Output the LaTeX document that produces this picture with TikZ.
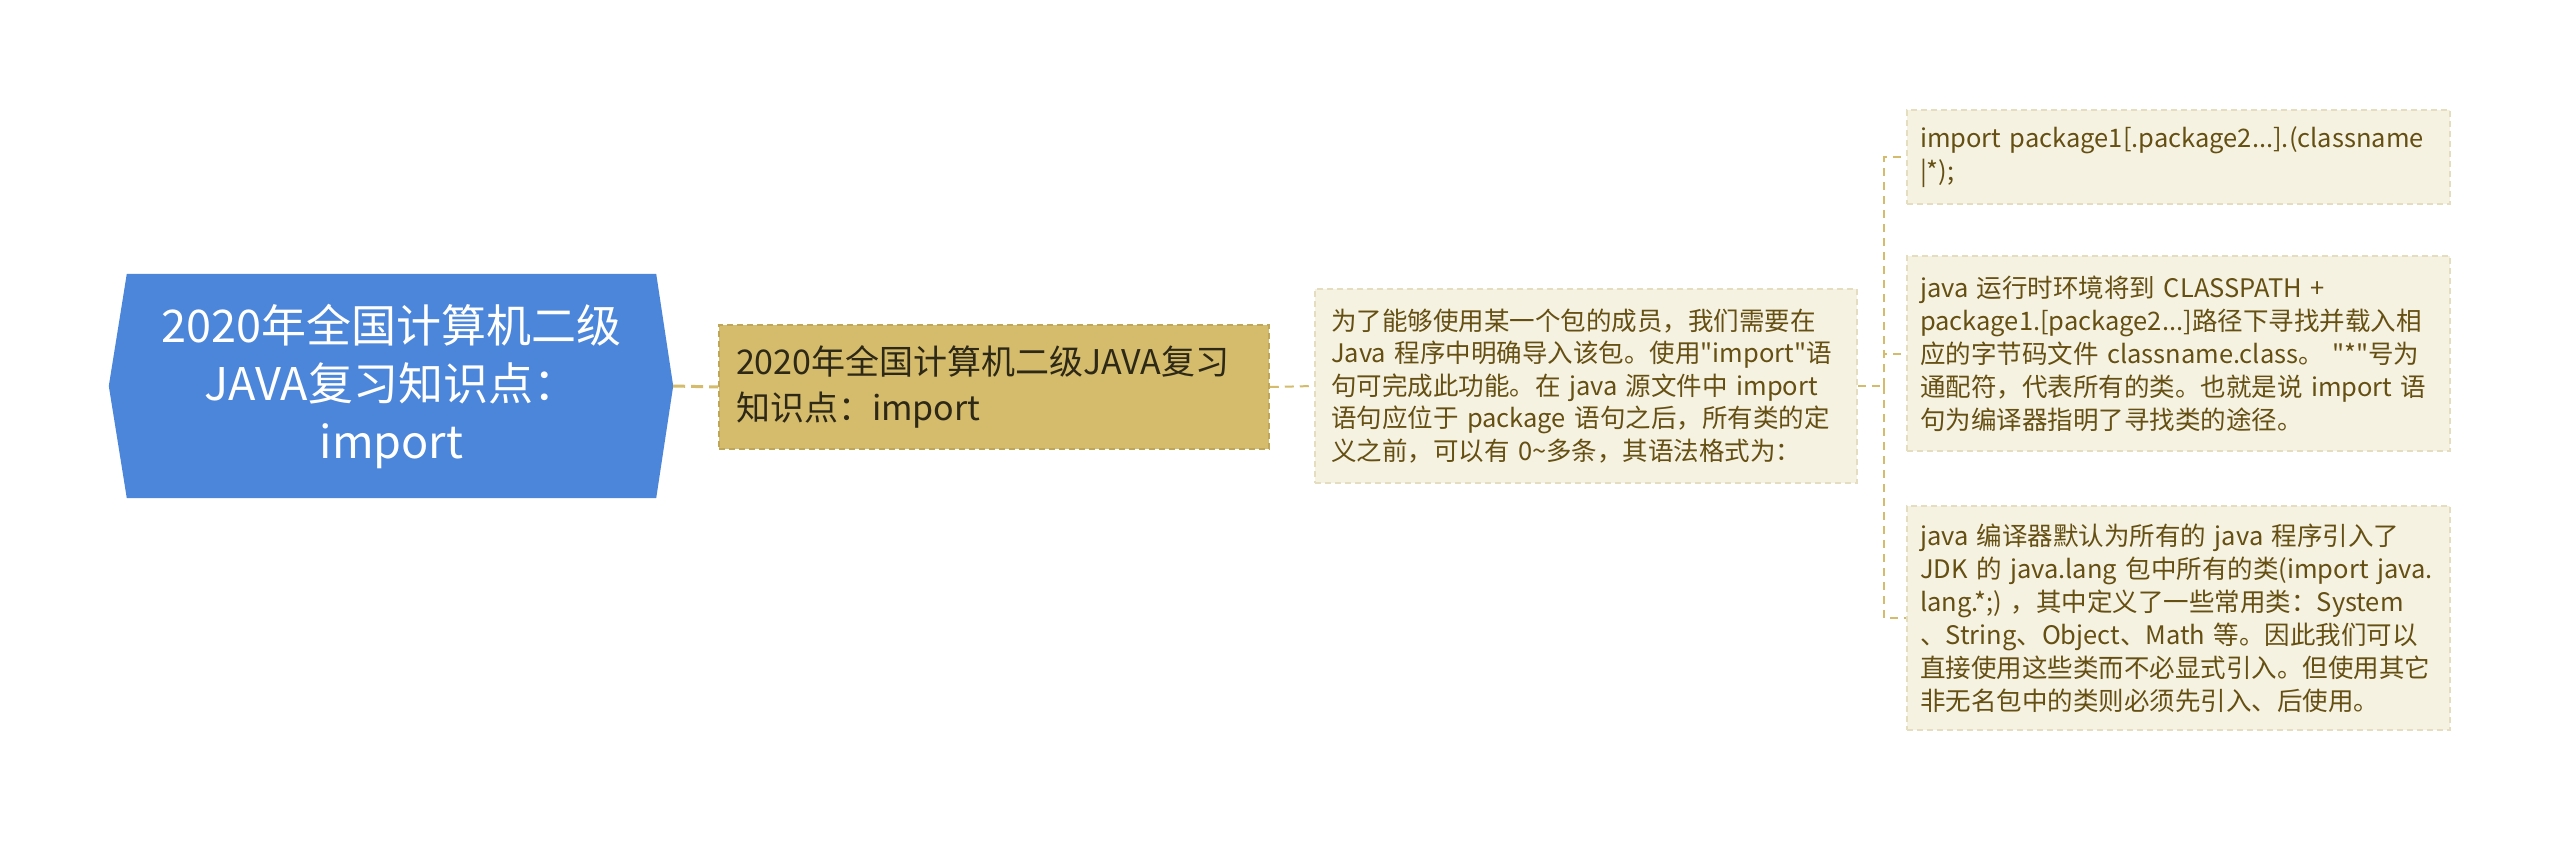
\documentclass[tikz,border=0pt]{standalone}
\usepackage{fontspec}
\setmainfont{Noto Sans CJK SC}
\usetikzlibrary{calc}
\pgfdeclarelayer{background}
\pgfsetlayers{background,main}
\definecolor{rootblue}{HTML}{4C86DA}
\definecolor{gold}{HTML}{D4BC6C}
\definecolor{goldedge}{HTML}{BFA658}
\definecolor{cream}{HTML}{F5F2E2}
\definecolor{creamedge}{HTML}{E4DDC0}
\definecolor{olive}{HTML}{654F12}
\definecolor{darktext}{HTML}{2E2816}
\tikzset{
  rootbox/.style={minimum width=529pt, minimum height=224pt, inner sep=0pt, align=center,
    text=white, font=\fontsize{45}{58}\selectfont},
  goldbox/.style={draw=goldedge, dash pattern=on 6pt off 4pt, line width=1.5pt, fill=gold,
    text=darktext, minimum width=550pt, minimum height=124pt, text width=516pt,
    inner xsep=17pt, inner ysep=0pt, align=left, font=\fontsize{34}{46}\selectfont},
  midbox/.style={draw=creamedge, dash pattern=on 6pt off 4pt, line width=1.5pt, fill=cream,
    text=olive, minimum width=542pt, minimum height=194pt, text width=510pt,
    inner xsep=16pt, inner ysep=0pt, align=left, font=\fontsize{25.5}{32.5}\selectfont},
  leafbox/.style={draw=creamedge, dash pattern=on 6pt off 4pt, line width=1.5pt, fill=cream,
    text=olive, minimum width=543pt, text width=517pt,
    inner xsep=13pt, inner ysep=0pt, align=left, font=\fontsize{25.5}{33}\selectfont},
  connA/.style={draw=gold, line width=3pt, dash pattern=on 12pt off 6pt},
  connB/.style={draw=gold, line width=2pt, dash pattern=on 9pt off 6pt},
  connC/.style={draw=gold, line width=2pt, dash pattern=on 8pt off 6pt},
}
\begin{document}
\begin{tikzpicture}[x=1pt,y=-1pt]
\useasboundingbox (0,0) rectangle (2560,841);

\node[rootbox] (root) at (391.5,386) {2020年全国计算机二级\\JAVA复习知识点：\\import};
\coordinate (roottip) at ($(root.east)+(17,0)$);
\begin{pgfonlayer}{background}
\fill[white] (0,0) rectangle (2560,841);
\fill[rootblue] (root.north west) -- (root.north east) -- (roottip) -- (root.south east)
  -- (root.south west) -- ($(root.west)+(-18,0)$) -- cycle;
\end{pgfonlayer}

\node[goldbox] (gold) at (994,387) {\mbox{2020年全国计算机二级JAVA复习}\\\mbox{知识点：import}};

\node[midbox] (mid) at (1586,386) {\mbox{为了能够使用某一个包的成员，我们需要在}\\
\mbox{Java 程序中明确导入该包。使用\textquotedbl import\textquotedbl 语}\\
\mbox{句可完成此功能。在 java 源文件中 import}\\
\mbox{语句应位于 package 语句之后，所有类的定}\\
\mbox{义之前，可以有 0\textasciitilde 多条，其语法格式为：}};

\node[leafbox, minimum height=94pt] (r1) at (2178.5,157) {\mbox{import package1[.package2...].(classname}\\
\mbox{|*);}};

\node[leafbox, minimum height=195pt] (r2) at (2178.5,353.5) {\mbox{java 运行时环境将到 CLASSPATH +}\\
\mbox{package1.[package2...]路径下寻找并载入相}\\
\mbox{应的字节码文件 classname.class。 \textquotedbl *\textquotedbl 号为}\\
\mbox{通配符，代表所有的类。也就是说 import 语}\\
\mbox{句为编译器指明了寻找类的途径。}};

\node[leafbox, minimum height=224pt] (r3) at (2178.5,618) {\mbox{java 编译器默认为所有的 java 程序引入了}\\
\mbox{JDK 的 java.lang 包中所有的类(import java.}\\
\mbox{lang.*;) ，其中定义了一些常用类：System}\\
\mbox{、String、Object、Math 等。因此我们可以}\\
\mbox{直接使用这些类而不必显式引入。但使用其它}\\
\mbox{非无名包中的类则必须先引入、后使用。}};

\coordinate (hub) at ($(mid.east)+(26,0)$);
\draw[connA] (roottip) -- (gold.west);
\draw[connB] (gold.east) -- (mid.west);
\draw[connC] (mid.east) -- (hub);
\draw[connC] (hub) |- (r1.west);
\draw[connC] (hub) |- (r2.west);
\draw[connC] (hub) |- (r3.west);
\end{tikzpicture}
\end{document}
